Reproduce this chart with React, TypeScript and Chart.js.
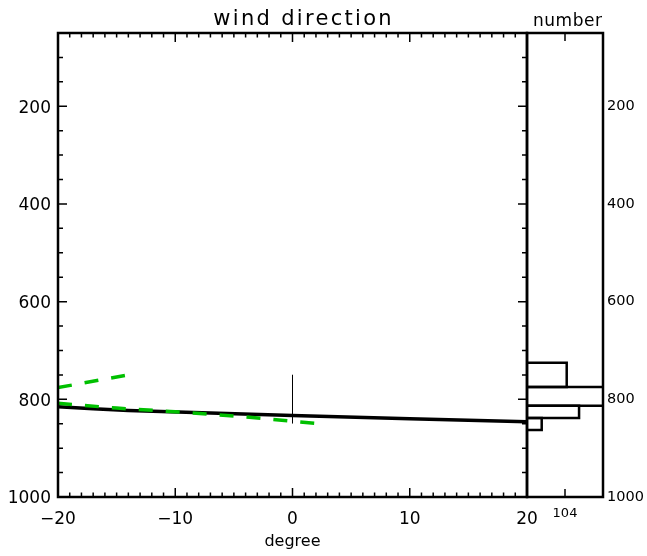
import React, { useEffect, useRef } from 'react';
import { Chart, registerables } from 'chart.js';

Chart.register(...registerables);

const FONT = "'DejaVu Sans', sans-serif";

// ---- main panel data ----
const mainTitle = 'wind direction';
const degreeTicks = [-20, -10, 0, 10, 20];
const pressureTicks = [200, 400, 600, 800, 1000];
const meanDeg = [-20, -17, -14, -7, 0, 10, 20];
const meanP = [815, 819.5, 823, 828, 833, 840, 846];
const upperDeg = [-20, -14];
const upperP = [776, 750];
const lowerDeg = [-20, -15, -10, -5, 0, 2.3];
const lowerP = [808, 818, 825.5, 834, 845, 850];
const markDeg = [0, 0];
const markP = [750, 849];

// ---- right panel (histogram) data ----
const histTitle = 'number';
const binTop = [725, 775, 813, 838];
const binBottom = [775, 813, 838, 863];
const binCount = [10450, 25000, 13700, 3870];
const countTicks = [10000];
const countTickLabels = ['104'];

const pts = (xs: number[], ys: number[]) => xs.map((x, i) => ({ x, y: ys[i] }));

type FrameCfg = {
  x: [number, number][];
  y: [number, number][];
  yLeft: boolean;
  yRight: boolean;
  frameWidth: number;
  title: string;
  titleSize: number;
  titleSpacing: number;
  titleDx: number;
  titleBaseline: number;
};

function makeFrame(cfg: FrameCfg) {
  return {
    id: 'frameTicks',
    afterDraw(chart: any) {
      const { ctx, chartArea: a, scales } = chart;
      ctx.save();
      ctx.strokeStyle = '#000';
      ctx.lineWidth = 1.5;
      ctx.beginPath();
      cfg.x.forEach(([v, len]) => {
        const px = scales.x.getPixelForValue(v);
        ctx.moveTo(px, a.bottom);
        ctx.lineTo(px, a.bottom - len);
        ctx.moveTo(px, a.top);
        ctx.lineTo(px, a.top + len);
      });
      cfg.y.forEach(([v, len]) => {
        const py = scales.y.getPixelForValue(v);
        if (cfg.yLeft) {
          ctx.moveTo(a.left, py);
          ctx.lineTo(a.left + len, py);
        }
        if (cfg.yRight) {
          ctx.moveTo(a.right, py);
          ctx.lineTo(a.right - len, py);
        }
      });
      ctx.stroke();
      ctx.lineWidth = cfg.frameWidth;
      ctx.strokeRect(a.left, a.top, a.right - a.left, a.bottom - a.top);

      // title
      ctx.fillStyle = '#000';
      ctx.font = `${cfg.titleSize}px ${FONT}`;
      try {
        (ctx as any).letterSpacing = `${cfg.titleSpacing}px`;
      } catch (e) {}
      ctx.textAlign = 'center';
      ctx.textBaseline = 'alphabetic';
      ctx.fillText(cfg.title, (a.left + a.right) / 2 + cfg.titleDx + cfg.titleSpacing / 2, cfg.titleBaseline);
      try {
        (ctx as any).letterSpacing = '0px';
      } catch (e) {}
      ctx.restore();
    },
  };
}

export default function App() {
  const mainRef = useRef<HTMLCanvasElement>(null);
  const histRef = useRef<HTMLCanvasElement>(null);

  useEffect(() => {
    Chart.defaults.color = '#000';
    Chart.defaults.font.family = FONT;

    const xMinor: [number, number][] = [];
    for (let v = -20; v <= 20; v++) xMinor.push([v, degreeTicks.includes(v) ? 9 : 4.5]);
    const yMinor: [number, number][] = [];
    for (let v = 50; v <= 1000; v += 50) yMinor.push([v, pressureTicks.includes(v) ? 9 : 5]);

    const lineDs = (data: any[], color: string, width: number, dash: number[] = []) => ({
      data,
      showLine: true,
      borderColor: color,
      borderWidth: width,
      borderDash: dash,
      pointRadius: 0,
      fill: false,
      clip: 0,
    });

    const main = new Chart(mainRef.current!, {
      type: 'scatter',
      data: {
        datasets: [
          lineDs(pts(upperDeg, upperP), '#00c000', 3.5, [14, 13]),
          lineDs(pts(lowerDeg, lowerP), '#00c000', 3.5, [14, 13]),
          lineDs(pts(meanDeg, meanP), '#000', 3.5),
          lineDs(pts(markDeg, markP), '#000', 1),
        ] as any,
      },
      options: {
        responsive: false,
        animation: false,
        layout: { padding: { left: 0, right: 120, top: 33, bottom: 0 } },
        plugins: {
          legend: { display: false },
          tooltip: { enabled: false },
          title: { display: false },
        },
        scales: {
          x: {
            type: 'linear',
            min: -20,
            max: 20,
            afterBuildTicks: (s: any) => {
              s.ticks = degreeTicks.map((v) => ({ value: v }));
            },
            afterFit: (s: any) => {
              s.height = 59;
            },
            ticks: {
              autoSkip: false,
              maxRotation: 0,
              padding: 12,
              color: '#000',
              font: { family: FONT, size: 17 },
              callback: (v: any) => String(v).replace('-', '\u2212'),
            },
            grid: { display: false, drawTicks: false },
            border: { display: false },
            title: {
              display: true,
              text: 'degree',
              color: '#000',
              font: { family: FONT, size: 16 },
              padding: { top: 0, bottom: 5 },
            },
          },
          y: {
            type: 'linear',
            reverse: true,
            min: 50,
            max: 1000,
            afterBuildTicks: (s: any) => {
              s.ticks = pressureTicks.map((v) => ({ value: v }));
            },
            afterFit: (s: any) => {
              s.width = 58;
            },
            ticks: {
              autoSkip: false,
              padding: 7,
              labelOffset: 2,
              color: '#000',
              font: { family: FONT, size: 17 },
              callback: (v: any) => String(v),
            },
            grid: { display: false, drawTicks: false },
            border: { display: false },
          },
        },
      } as any,
      plugins: [
        makeFrame({
          x: xMinor,
          y: yMinor,
          yLeft: true,
          yRight: true,
          frameWidth: 2.5,
          title: mainTitle,
          titleSize: 21,
          titleSpacing: 2.3,
          titleDx: 10,
          titleBaseline: 25,
        }),
      ],
    });

    const hist = new Chart(histRef.current!, {
      type: 'scatter',
      data: {
        datasets: binCount.map((c, i) =>
          lineDs(
            [
              { x: 0, y: binTop[i] },
              { x: c, y: binTop[i] },
              { x: c, y: binBottom[i] },
              { x: 0, y: binBottom[i] },
            ],
            '#000',
            2.5
          )
        ) as any,
      },
      options: {
        responsive: false,
        animation: false,
        layout: { padding: { left: 527, right: 0, top: 33, bottom: 0 } },
        plugins: {
          legend: { display: false },
          tooltip: { enabled: false },
          title: { display: false },
        },
        scales: {
          x: {
            type: 'linear',
            min: 0,
            max: 20000,
            afterBuildTicks: (s: any) => {
              s.ticks = countTicks.map((v) => ({ value: v }));
            },
            afterFit: (s: any) => {
              s.height = 59;
            },
            ticks: {
              autoSkip: false,
              maxRotation: 0,
              padding: 9,
              color: '#000',
              font: { family: FONT, size: 13 },
              callback: (_v: any, i: number) => countTickLabels[i],
            },
            grid: { display: false, drawTicks: false },
            border: { display: false },
          },
          y: {
            type: 'linear',
            position: 'right',
            reverse: true,
            min: 50,
            max: 1000,
            afterBuildTicks: (s: any) => {
              s.ticks = pressureTicks.map((v) => ({ value: v }));
            },
            afterFit: (s: any) => {
              s.width = 44;
            },
            ticks: {
              autoSkip: false,
              padding: 4,
              color: '#000',
              font: { family: FONT, size: 14.5 },
              callback: (v: any) => String(v),
            },
            grid: { display: false, drawTicks: false },
            border: { display: false },
          },
        },
      } as any,
      plugins: [
        makeFrame({
          x: countTicks.map((v) => [v, 8] as [number, number]),
          y: [],
          yLeft: false,
          yRight: false,
          frameWidth: 2.5,
          title: histTitle,
          titleSize: 17,
          titleSpacing: 0.5,
          titleDx: 2.5,
          titleBaseline: 26,
        }),
      ],
    });

    return () => {
      main.destroy();
      hist.destroy();
    };
  }, []);

  const style: React.CSSProperties = { position: 'absolute', left: 0, top: 0, display: 'block' };
  return (
    <div style={{ position: 'absolute', left: 0, top: 0, width: 647, height: 556, background: '#fff' }}>
      <canvas ref={mainRef} width={647} height={556} style={style} />
      <canvas ref={histRef} width={647} height={556} style={style} />
    </div>
  );
}
